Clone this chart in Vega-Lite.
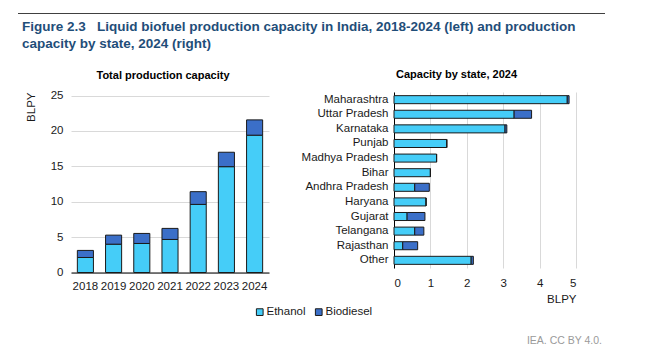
{
  "$schema": "https://vega.github.io/schema/vega-lite/v6.json",
  "padding": {"left": 18, "top": 13, "right": 5, "bottom": 5},
  "background": "white",
  "config": {
    "font": "Liberation Sans",
    "view": {"stroke": null},
    "axis": {"labelFont": "Liberation Sans", "labelFontSize": 11.5, "labelColor": "#1a1a1a", "titleFont": "Liberation Sans", "titleFontSize": 11.5, "titleFontWeight": "normal", "titleColor": "#1a1a1a", "gridColor": "#d9d9d9", "ticks": false},
    "legend": {"labelFont": "Liberation Sans", "labelFontSize": 11.5, "labelColor": "#1a1a1a", "layout": {"bottom": {"anchor": "middle"}}},
    "title": {"font": "Liberation Sans"}
  },
  "resolve": {"legend": {"color": "independent"}},
  "align": "none",
  "spacing": 18,
  "vconcat": [
    {
      "width": 587,
      "height": 1,
      "view": {"fill": "#404040"},
      "data": {"values": []},
      "mark": "point",
      "encoding": {},
      "title": {
        "text": ["Figure 2.3\u00a0\u00a0\u00a0Liquid biofuel production capacity in India, 2018-2024 (left) and production", "\u00a0\u00a0\u00a0\u00a0\u00a0\u00a0\u00a0\u00a0\u00a0\u00a0\u00a0\u00a0\u00a0\u00a0\u00a0\u00a0\u00a0\u00a0\u00a0\u00a0capacity by state, 2024 (right)"],
        "orient": "bottom",
        "anchor": "start",
        "fontSize": 13.5,
        "fontWeight": "bold",
        "color": "#1f4e79",
        "lineHeight": 17,
        "offset": 6,
        "dx": 4
      }
    },
    {
      "spacing": 6,
      "hconcat": [
        {
          "width": 1,
          "height": 1,
          "data": {"values": []},
          "mark": "point",
          "encoding": {}
        },
        {
          "spacing": 32,
          "hconcat": [
            {
              "width": 198,
              "height": 180.5,
              "title": {"text": "Total production capacity", "fontSize": 11, "fontWeight": "bold", "color": "#000000", "anchor": "middle", "frame": "group", "dx": -7, "offset": 9},
              "data": {"values": [
                {"year": "2018", "fuel": "Ethanol", "value": 2.12},
                {"year": "2018", "fuel": "Biodiesel", "value": 1.0},
                {"year": "2019", "fuel": "Ethanol", "value": 4.0},
                {"year": "2019", "fuel": "Biodiesel", "value": 1.28},
                {"year": "2020", "fuel": "Ethanol", "value": 4.1},
                {"year": "2020", "fuel": "Biodiesel", "value": 1.42},
                {"year": "2021", "fuel": "Ethanol", "value": 4.67},
                {"year": "2021", "fuel": "Biodiesel", "value": 1.56},
                {"year": "2022", "fuel": "Ethanol", "value": 9.62},
                {"year": "2022", "fuel": "Biodiesel", "value": 1.8},
                {"year": "2023", "fuel": "Ethanol", "value": 14.95},
                {"year": "2023", "fuel": "Biodiesel", "value": 2.04},
                {"year": "2024", "fuel": "Ethanol", "value": 19.4},
                {"year": "2024", "fuel": "Biodiesel", "value": 2.16}
              ]},
              "mark": {"type": "bar", "stroke": "#1a1a1a", "strokeWidth": 1},
              "encoding": {
                "x": {"field": "year", "type": "ordinal", "scale": {"paddingInner": 0.43, "paddingOuter": 0.225}, "axis": {"title": null, "labelAngle": 0, "domainColor": "#000000", "labelPadding": 8, "grid": false}},
                "y": {"field": "value", "type": "quantitative", "stack": "zero", "scale": {"domain": [0, 25.5], "nice": false}, "axis": {"title": "BLPY", "titleAnchor": "end", "values": [0, 5, 10, 15, 20, 25], "domain": false, "labelPadding": 8, "titlePadding": 14}},
                "color": {"field": "fuel", "type": "nominal", "scale": {"domain": ["Ethanol", "Biodiesel"], "range": ["#45cdf8", "#3b6fc8"]}, "legend": {"title": null, "orient": "bottom", "direction": "horizontal", "symbolType": "square", "symbolSize": 45, "symbolStrokeColor": "#1a1a1a", "symbolStrokeWidth": 1, "columnPadding": 7, "labelOffset": 1, "offset": 1}},
                "order": {"field": "fuel", "sort": "descending"}
              }
            },
            {
              "width": 182,
              "height": 176,
              "title": {"text": "Capacity by state, 2024", "fontSize": 11, "fontWeight": "bold", "color": "#000000", "anchor": "start", "frame": "group", "dx": 2, "offset": 12},
              "data": {"values": [
                {"state": "Maharashtra", "fuel": "Ethanol", "value": 4.76},
                {"state": "Maharashtra", "fuel": "Biodiesel", "value": 0.05},
                {"state": "Uttar Pradesh", "fuel": "Ethanol", "value": 3.3},
                {"state": "Uttar Pradesh", "fuel": "Biodiesel", "value": 0.48},
                {"state": "Karnataka", "fuel": "Ethanol", "value": 3.05},
                {"state": "Karnataka", "fuel": "Biodiesel", "value": 0.05},
                {"state": "Punjab", "fuel": "Ethanol", "value": 1.45},
                {"state": "Punjab", "fuel": "Biodiesel", "value": 0.0},
                {"state": "Madhya Pradesh", "fuel": "Ethanol", "value": 1.17},
                {"state": "Madhya Pradesh", "fuel": "Biodiesel", "value": 0.0},
                {"state": "Bihar", "fuel": "Ethanol", "value": 1.0},
                {"state": "Bihar", "fuel": "Biodiesel", "value": 0.0},
                {"state": "Andhra Pradesh", "fuel": "Ethanol", "value": 0.57},
                {"state": "Andhra Pradesh", "fuel": "Biodiesel", "value": 0.4},
                {"state": "Haryana", "fuel": "Ethanol", "value": 0.88},
                {"state": "Haryana", "fuel": "Biodiesel", "value": 0.0},
                {"state": "Gujarat", "fuel": "Ethanol", "value": 0.36},
                {"state": "Gujarat", "fuel": "Biodiesel", "value": 0.49},
                {"state": "Telangana", "fuel": "Ethanol", "value": 0.57},
                {"state": "Telangana", "fuel": "Biodiesel", "value": 0.25},
                {"state": "Rajasthan", "fuel": "Ethanol", "value": 0.24},
                {"state": "Rajasthan", "fuel": "Biodiesel", "value": 0.41},
                {"state": "Other", "fuel": "Ethanol", "value": 2.12},
                {"state": "Other", "fuel": "Biodiesel", "value": 0.06}
              ]},
              "mark": {"type": "bar", "stroke": "#1a1a1a", "strokeWidth": 1},
              "encoding": {
                "y": {"field": "state", "type": "nominal", "sort": ["Maharashtra", "Uttar Pradesh", "Karnataka", "Punjab", "Madhya Pradesh", "Bihar", "Andhra Pradesh", "Haryana", "Gujarat", "Telangana", "Rajasthan", "Other"], "scale": {"paddingInner": 0.45, "paddingOuter": 0.25}, "axis": {"title": null, "domainColor": "#000000", "labelPadding": 6, "grid": false}},
                "x": {"field": "value", "type": "quantitative", "stack": "zero", "scale": {"domain": [0, 5]}, "axis": {"title": "BLPY", "titleAnchor": "end", "values": [0, 1, 2, 3, 4, 5], "domain": false, "labelPadding": 9, "titlePadding": 5}},
                "color": {"field": "fuel", "type": "nominal", "scale": {"domain": ["Ethanol", "Biodiesel"], "range": ["#45cdf8", "#3b6fc8"]}, "legend": {"title": null, "orient": "bottom", "direction": "horizontal", "symbolType": "square", "symbolSize": 45, "symbolStrokeColor": "#1a1a1a", "symbolStrokeWidth": 1, "columnPadding": 7, "labelOffset": 1, "offset": 1}},
                "order": {"field": "fuel", "sort": "descending"}
              }
            },
            {
              "width": 1,
              "height": 176,
              "data": {"values": []},
              "mark": "point",
              "encoding": {}
            }
          ]
        }
      ]
    },
    {
      "width": 587,
      "height": 1,
      "data": {"values": []},
      "mark": "point",
      "encoding": {},
      "title": {"text": "IEA. CC BY 4.0.", "orient": "bottom", "anchor": "end", "fontSize": 10.5, "fontWeight": "normal", "color": "#9a9a9a", "offset": -5, "dx": -3}
    }
  ]
}
